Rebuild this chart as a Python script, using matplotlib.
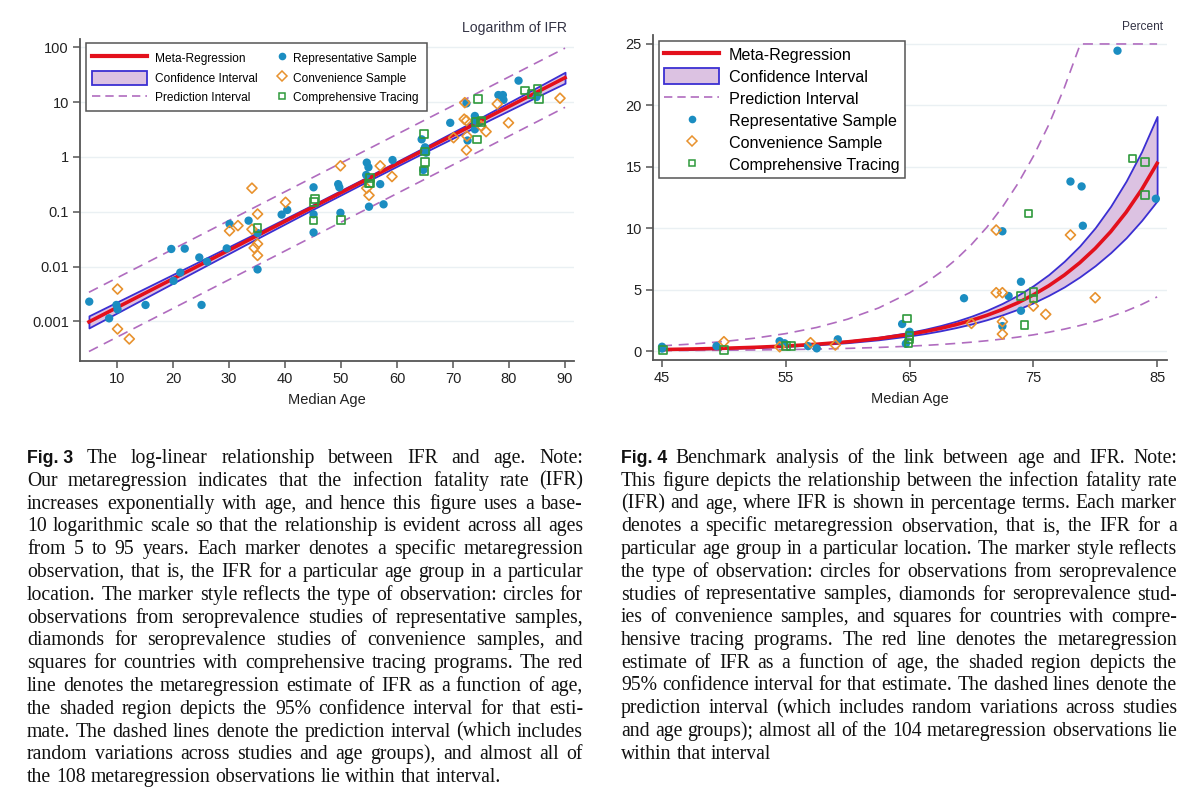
import matplotlib
matplotlib.use('Agg')
import matplotlib.pyplot as plt
from matplotlib.lines import Line2D
from matplotlib.patches import Patch, Rectangle
from matplotlib.ticker import NullLocator
from matplotlib.font_manager import FontProperties

plt.rcParams['font.family'] = ['Liberation Sans', 'DejaVu Sans']

RED = '#e3101c'
CI_FILL = '#dcc2e2'
CI_EDGE = '#3b2fd2'
PI_COL = '#b06cbf'
REP_COL = '#1b8dc1'
CONV_COL = '#e8922e'
COMP_COL = '#2f9a3c'
AX_COL = '#555555'

# ---------------- Fig. 3 data (log scale) ----------------
fit3_age = [5, 15, 25, 35, 45, 55, 65, 75, 85, 90]
fit3_ifr = [0.000982, 0.00328, 0.01096, 0.03664, 0.1225, 0.4093, 1.368, 4.571, 15.28, 27.93]
ci3_lo = [0.000762, 0.002667, 0.00933, 0.03243, 0.1112, 0.3734, 1.230, 3.964, 12.57, 22.18]
ci3_hi = [0.001265, 0.004035, 0.01288, 0.0414, 0.1350, 0.4486, 1.521, 5.270, 18.58, 35.16]
pi3_lo = [0.000283, 0.000946, 0.00316, 0.01057, 0.03533, 0.1181, 0.3946, 1.318, 4.407, 8.056]
pi3_hi = [0.003405, 0.01137, 0.0380, 0.1270, 0.4247, 1.419, 4.743, 15.85, 52.98, 96.83]

rep3_age = [5.05, 8.6, 9.9, 10.1, 15.1, 19.7, 20.1, 21.3, 22.1, 24.7, 25.1, 26.1, 29.6, 30.1,
            33.5, 35.1, 35.1, 39.4, 40.4, 45.1, 49.5, 49.7, 45.1, 45.1, 49.9, 55, 57.6, 57,
            81.7, 78.1, 78.9, 79, 72.4, 69.5, 73.9, 74, 73.9, 72.6, 64.4, 65, 65.2, 64.7,
            59.2, 54.6, 54.9, 54.5, 84.9]
rep3_ifr = [0.0023, 0.00114, 0.0020, 0.00166, 0.0020, 0.021, 0.0055, 0.0078, 0.0213, 0.0147,
            0.0020, 0.0123, 0.0215, 0.060, 0.069, 0.041, 0.0089, 0.089, 0.108, 0.28, 0.32, 0.28,
            0.090, 0.042, 0.096, 0.124, 0.137, 0.32, 24.7, 13.5, 13.5, 11, 9.5, 4.2, 5.6, 4.6,
            3.2, 2.0, 2.1, 1.5, 1.2, 0.58, 0.88, 0.79, 0.65, 0.47, 12.4]
conv3_age = [10.1, 10.1, 12.2, 34.1, 35.1, 30.1, 31.6, 34.1, 34.5, 35.1, 35.1, 40.1, 54.6, 55,
             72.1, 72, 72.4, 77.9, 75.9, 79.9, 70.1, 72.4, 89.1, 57, 59.1, 49.9, 75, 72.5]
conv3_ifr = [0.0039, 0.00073, 0.00048, 0.27, 0.091, 0.045, 0.056, 0.048, 0.022, 0.026, 0.016,
             0.149, 0.27, 0.20, 9.8, 4.9, 4.6, 9.3, 2.9, 4.2, 2.25, 1.34, 11.8, 0.69, 0.44,
             0.69, 3.7, 2.4]
comp3_age = [35.1, 45.2, 45.1, 50, 55, 74.5, 82.9, 84, 85.1, 85.4, 75.1, 74.3, 64.8, 65, 65,
             64.8, 55.2, 55.2, 45.4, 74, 75]
comp3_ifr = [0.051, 0.152, 0.069, 0.071, 0.33, 11.3, 16.2, 14.1, 17.2, 11.3, 4.6, 2.1, 2.6,
             1.25, 0.82, 0.56, 0.41, 0.33, 0.17, 4.4, 4.3]

# ---------------- Fig. 4 data (percent) ----------------
fit4_age = [45, 47.5, 50, 52.5, 55, 57.5, 60, 62.5, 65, 66.25, 67.5, 68.75, 70, 71.25, 72.5,
            73.75, 75, 76.25, 77.5, 78.75, 80, 81.25, 82.5, 83.75, 85]
fit4_ifr = [0.1225, 0.1656, 0.2239, 0.3027, 0.4093, 0.5534, 0.7482, 1.0116, 1.368, 1.591,
            1.849, 2.150, 2.500, 2.908, 3.381, 3.931, 4.571, 5.315, 6.180, 7.186, 8.356,
            9.716, 11.30, 13.14, 15.28]
ci4_lo = [0.110, 0.150, 0.204, 0.276, 0.373, 0.504, 0.679, 0.914, 1.230, 1.424, 1.648, 1.908,
          2.203, 2.551, 2.945, 3.401, 3.927, 4.535, 5.224, 6.034, 6.952, 8.010, 9.22, 10.63,
          12.22]
ci4_hi = [0.136, 0.182, 0.245, 0.332, 0.449, 0.608, 0.825, 1.120, 1.521, 1.777, 2.075, 2.423,
          2.838, 3.315, 3.881, 4.544, 5.321, 6.229, 7.311, 8.559, 10.04, 11.79, 13.84, 16.24,
          19.10]
pi4_lo = [0.0353, 0.0478, 0.0646, 0.0873, 0.118, 0.160, 0.216, 0.292, 0.395, 0.459, 0.533,
          0.620, 0.721, 0.839, 0.975, 1.134, 1.318, 1.533, 1.783, 2.073, 2.410, 2.802, 3.259,
          3.790, 4.407]
pi4_hi_age = [45, 47.5, 50, 52.5, 55, 57.5, 60, 62.5, 65, 66.25, 67.5, 68.75, 70, 71.25, 72.5,
              73.75, 75, 76.25, 77.5, 78.8, 85]
pi4_hi = [0.425, 0.574, 0.776, 1.049, 1.419, 1.919, 2.594, 3.507, 4.743, 5.516, 6.41, 7.454,
          8.67, 10.08, 11.72, 13.63, 15.85, 18.43, 21.43, 25, 25]

rep4_age = [45, 45, 49.4, 54.5, 54.9, 56.8, 57.5, 59.2, 64.4, 65, 64.7, 78, 78.9, 79, 72.5,
            69.4, 74, 73, 74, 72.5, 84.9, 81.8]
rep4_ifr = [0.35, 0.2, 0.4, 0.8, 0.63, 0.4, 0.22, 0.95, 2.2, 1.57, 0.6, 13.8, 13.4, 10.2, 9.75,
            4.3, 5.64, 4.48, 3.28, 2.03, 12.4, 24.45]
conv4_age = [50, 54.5, 57, 59, 72, 78, 72, 72.5, 75, 76, 70, 72.5, 72.5, 80]
conv4_ifr = [0.76, 0.35, 0.68, 0.49, 9.85, 9.45, 4.75, 4.75, 3.66, 2.99, 2.25, 2.39, 1.38, 4.34]
comp4_age = [45.1, 50, 55, 55.4, 64.8, 65, 64.9, 65, 74.6, 84, 83, 84, 74, 75, 75, 74.3]
comp4_ifr = [0.1, 0.08, 0.4, 0.4, 2.66, 0.95, 0.65, 1.2, 11.2, 12.7, 15.66, 15.4, 4.48, 4.83,
             4.29, 2.14]

labels = ['Meta-Regression', 'Confidence Interval', 'Prediction Interval',
          'Representative Sample', 'Convenience Sample', 'Comprehensive Tracing']

fig = plt.figure(figsize=(12, 8.07), dpi=100)
W, H = 1200.0, 807.0
ax1 = fig.add_axes([80 / W, 1 - 361 / H, 494 / W, 322 / H])
ax2 = fig.add_axes([653 / W, 1 - 360 / H, 514 / W, 325 / H])


def style(ax):
    for s in ['top', 'right']:
        ax.spines[s].set_visible(False)
    for s in ['left', 'bottom']:
        ax.spines[s].set_color(AX_COL)
        ax.spines[s].set_linewidth(1.3)
    ax.tick_params(direction='out', length=5, width=1.1, color=AX_COL,
                   labelsize=10.5, labelcolor='#222222', pad=3)
    ax.grid(axis='y', color='#eaf0f3', lw=1)
    ax.set_axisbelow(True)


def draw(ax, age, fit, lo, hi, plo_age, plo, phi_age, phi, series):
    ax.fill_between(age, lo, hi, facecolor=CI_FILL, edgecolor=CI_EDGE, lw=1.3, zorder=2)
    ax.plot(age, fit, color=RED, lw=2.6, zorder=3)
    ax.plot(plo_age, plo, color=PI_COL, lw=1.2, dashes=(6, 4), zorder=2)
    ax.plot(phi_age, phi, color=PI_COL, lw=1.2, dashes=(6, 4), zorder=2)
    (ra, rv), (ca, cv), (ga, gv) = series
    ax.scatter(ra, rv, s=36, color=REP_COL, edgecolors='none', zorder=4)
    ax.scatter(ca, cv, marker='D', s=26, facecolors='none', edgecolors=CONV_COL, lw=1.2, zorder=4)
    ax.scatter(ga, gv, marker='s', s=30, facecolors='none', edgecolors=COMP_COL, lw=1.2, zorder=4)


h_fit = Line2D([], [], color=RED, lw=3)
h_ci = Patch(facecolor=CI_FILL, edgecolor=CI_EDGE, lw=1.3)
h_pi = Line2D([], [], color=PI_COL, lw=1.2, dashes=(5, 3))
h_rep = Line2D([], [], ls='none', marker='o', ms=5.5, color=REP_COL, mec='none')
h_conv = Line2D([], [], ls='none', marker='D', ms=5, mfc='none', mec=CONV_COL, mew=1.1)
h_comp = Line2D([], [], ls='none', marker='s', ms=5, mfc='none', mec=COMP_COL, mew=1.1)

# ---------- Fig. 3 ----------
style(ax1)
draw(ax1, fit3_age, fit3_ifr, ci3_lo, ci3_hi, fit3_age, pi3_lo, fit3_age, pi3_hi,
     [(rep3_age, rep3_ifr), (conv3_age, conv3_ifr), (comp3_age, comp3_ifr)])
ax1.set_yscale('log')
ax1.set_ylim(1.9e-4, 142)
ax1.set_xlim(3.4, 91.6)
ax1.set_yticks([0.001, 0.01, 0.1, 1, 10, 100])
ax1.set_yticklabels(['0.001', '0.01', '0.1', '1', '10', '100'])
ax1.yaxis.set_minor_locator(NullLocator())
ax1.set_xticks(range(10, 100, 10))
ax1.set_xlabel('Median Age', fontsize=10.5, color='#222222', labelpad=5)

ax1.add_patch(Rectangle((0.0121, 0.7764), 0.6903, 0.2112, transform=ax1.transAxes,
                        facecolor='white', edgecolor=AX_COL, lw=1.1, zorder=5))
leg_a = ax1.legend([h_fit, h_ci, h_pi], labels[:3], loc='upper left',
                   bbox_to_anchor=(0.024, 0.963), frameon=False, fontsize=8.6,
                   handlelength=4.6, handleheight=1.4, handletextpad=0.7,
                   labelspacing=0.5, borderpad=0, borderaxespad=0)
leg_a.set_zorder(6)
ax1.add_artist(leg_a)
leg_b = ax1.legend([h_rep, h_conv, h_comp], labels[3:], loc='upper left',
                   bbox_to_anchor=(0.399, 0.963), frameon=False, fontsize=8.6,
                   handlelength=0.85, handleheight=1.4, handletextpad=0.5,
                   labelspacing=0.5, borderpad=0, borderaxespad=0)
leg_b.set_zorder(6)
fig.text(567 / W, 1 - 28 / H, 'Logarithm of IFR', ha='right', va='center',
         fontsize=10.1, color='#333344')

# ---------- Fig. 4 ----------
style(ax2)
draw(ax2, fit4_age, fit4_ifr, ci4_lo, ci4_hi, fit4_age, pi4_lo, pi4_hi_age, pi4_hi,
     [(rep4_age, rep4_ifr), (conv4_age, conv4_ifr), (comp4_age, comp4_ifr)])
ax2.set_ylim(-0.73, 25.73)
ax2.set_xlim(44.27, 85.8)
ax2.set_yticks([0, 5, 10, 15, 20, 25])
ax2.set_xticks([45, 55, 65, 75, 85])
ax2.set_xlabel('Median Age', fontsize=10.5, color='#222222', labelpad=5)
leg = ax2.legend([h_fit, h_ci, h_pi, h_rep, h_conv, h_comp], labels, loc='upper left',
                 bbox_to_anchor=(0.0117, 0.9815), fontsize=11.6, fancybox=False,
                 framealpha=1, edgecolor=AX_COL, handlelength=3.4, handleheight=1.1,
                 handletextpad=0.62, labelspacing=0.36, borderpad=0.33, borderaxespad=0)
leg.get_frame().set_linewidth(1.1)
fig.text(1163 / W, 1 - 27 / H, 'Percent', ha='right', va='center',
         fontsize=8.6, color='#333344')

# ---------- captions ----------
cap3 = [
    "Fig. 3 The log-linear relationship between IFR and age. Note:",
    "Our metaregression indicates that the infection fatality rate (IFR)",
    "increases exponentially with age, and hence this figure uses a base-",
    "10 logarithmic scale so that the relationship is evident across all ages",
    "from 5 to 95 years. Each marker denotes a specific metaregression",
    "observation, that is, the IFR for a particular age group in a particular",
    "location. The marker style reflects the type of observation: circles for",
    "observations from seroprevalence studies of representative samples,",
    "diamonds for seroprevalence studies of convenience samples, and",
    "squares for countries with comprehensive tracing programs. The red",
    "line denotes the metaregression estimate of IFR as a function of age,",
    "the shaded region depicts the 95% confidence interval for that esti-",
    "mate. The dashed lines denote the prediction interval (which includes",
    "random variations across studies and age groups), and almost all of",
    "the 108 metaregression observations lie within that interval.",
]
cap4 = [
    "Fig. 4 Benchmark analysis of the link between age and IFR. Note:",
    "This figure depicts the relationship between the infection fatality rate",
    "(IFR) and age, where IFR is shown in percentage terms. Each marker",
    "denotes a specific metaregression observation, that is, the IFR for a",
    "particular age group in a particular location. The marker style reflects",
    "the type of observation: circles for observations from seroprevalence",
    "studies of representative samples, diamonds for seroprevalence stud-",
    "ies of convenience samples, and squares for countries with compre-",
    "hensive tracing programs. The red line denotes the metaregression",
    "estimate of IFR as a function of age, the shaded region depicts the",
    "95% confidence interval for that estimate. The dashed lines denote the",
    "prediction interval (which includes random variations across studies",
    "and age groups); almost all of the 104 metaregression observations lie",
    "within that interval",
]

renderer = fig.canvas.get_renderer()
CAP_FS = 14.2
serif = FontProperties(family='Liberation Serif', size=CAP_FS)
boldsans = FontProperties(family='Liberation Sans', weight='bold', size=CAP_FS * 0.9)


def text_w(s, p):
    return renderer.get_text_width_height_descent(s, p, ismath=False)[0]


def caption(lines, x0, x1, y0, dy):
    space = text_w('a a', serif) - text_w('aa', serif)
    for i, line in enumerate(lines):
        words = line.split(' ')
        props = [serif] * len(words)
        if i == 0:
            words = [words[0] + ' ' + words[1]] + words[2:]
            props = [boldsans] + [serif] * (len(words) - 1)
        widths = [text_w(w, p) for w, p in zip(words, props)]
        if i == len(lines) - 1:
            gap = space
        else:
            gap = (x1 - x0 - sum(widths)) / (len(words) - 1)
        x = x0
        y = y0 + i * dy
        for w, p, wd in zip(words, props, widths):
            fig.text(x / W, 1 - y / H, w, fontproperties=p, ha='left', va='baseline',
                     color='#111111')
            x += wd + gap


caption(cap3, 27, 583, 463, 22.8)
caption(cap4, 621, 1177, 463, 22.75)

fig.savefig('out.png', dpi=100, facecolor='white')
